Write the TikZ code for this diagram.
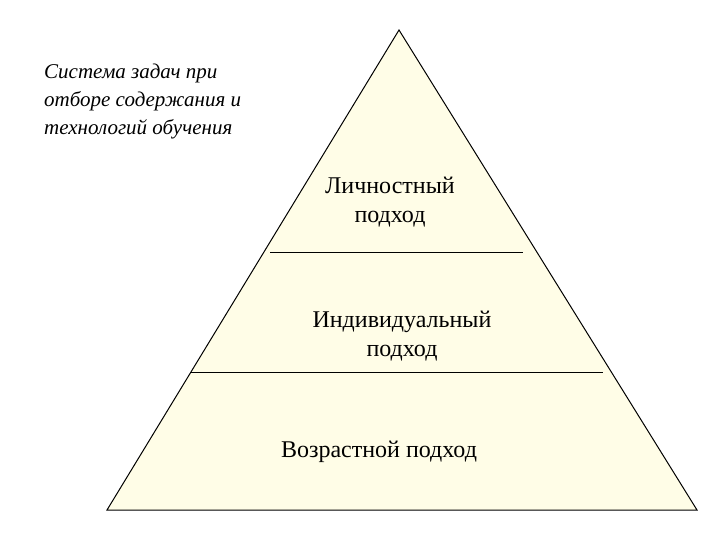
\documentclass[tikz,border=0pt]{standalone}
\usepackage{fontspec}
\setmainfont{Liberation Serif}
\definecolor{PyramidFill}{RGB}{255, 253, 231}
\usetikzlibrary{positioning}

\begin{document}
\begin{tikzpicture}[x=1pt, y=-1pt]
    \useasboundingbox (0,0) rectangle (720,540);

    % Pyramid
    \coordinate (apex) at (399,30);
    \coordinate (baseL) at (107,510);
    \coordinate (baseR) at (697,510);
    \filldraw[fill=PyramidFill, draw=black, line width=1pt] (apex) -- (baseR) -- (baseL) -- cycle;

    % Dividing lines
    \coordinate (upperL) at (270,252);
    \coordinate (upperR) at (523,252);
    \coordinate (lowerL) at (191,372);
    \coordinate (lowerR) at (603,372);
    \draw[line width=1pt] (upperL) -- (upperR);
    \draw[line width=1pt] (lowerL) -- (lowerR);

    % Levels
    \node[font=\fontsize{24}{29}\selectfont, align=center] (personal) at (390,202) {Личностный\\подход};
    \node[font=\fontsize{24}{29}\selectfont, align=center] (individual) at (402,336) {Индивидуальный\\подход};
    \node[font=\fontsize{24}{29}\selectfont] (age) at (379,452) {Возрастной подход};

    % Caption
    \node[font=\fontsize{21}{28}\selectfont\itshape, align=left, anchor=west, inner sep=0pt] (tasks) at (44,101) {Система задач при\\отборе содержания и\\технологий обучения};
\end{tikzpicture}
\end{document}
